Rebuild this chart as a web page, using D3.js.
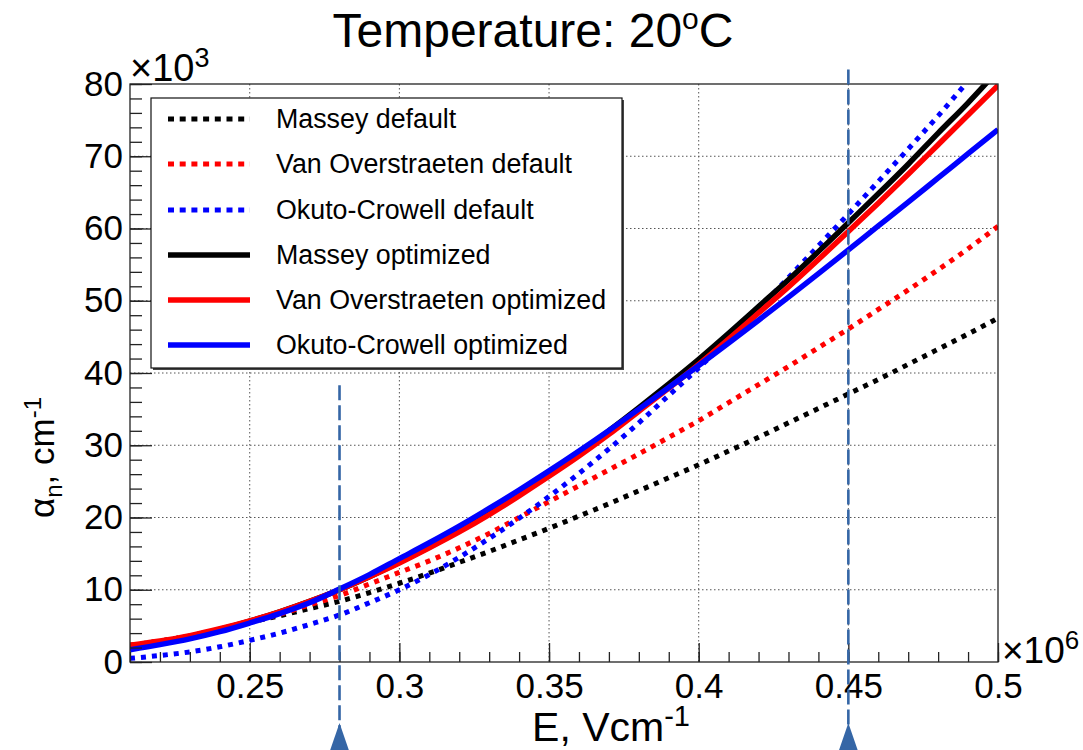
<!DOCTYPE html>
<html>
<head>
<meta charset="utf-8">
<script src="https://cdn.jsdelivr.net/npm/d3@7/dist/d3.min.js"></script>
<style>
  html, body { margin: 0; padding: 0; background: #fff; }
  svg { display: block; font-family: "Liberation Sans", Arial, Helvetica, sans-serif; }
</style>
</head>
<body>
<svg id="chart" width="1083" height="750"></svg>
<script>
// ---- data (E in units of 1e6 V/cm, alpha in units of 1e3 cm^-1) ----
const fieldE = [0.21,0.22,0.23,0.24,0.25,0.26,0.27,0.28,0.29,0.30,
                0.31,0.32,0.33,0.34,0.35,0.36,0.37,0.38,0.39,0.40,
                0.41,0.42,0.43,0.44,0.45,0.46,0.47,0.48,0.49,0.50];

const masseyDefault = [2.3,2.9,3.6,4.5,5.5,6.4,7.4,8.4,9.6,10.9,
                       12.3,13.8,15.3,16.9,18.5,20.2,21.9,23.7,25.5,27.3,
                       29.2,31.1,33.1,35.1,37.1,39.1,41.2,43.3,45.4,47.6];
const vanOverDefault = [2.3,2.9,3.6,4.5,5.5,6.6,7.9,9.2,10.8,12.4,
                        14.0,15.8,17.8,20.0,22.2,24.4,26.6,28.8,31.1,33.4,
                        35.9,38.4,40.9,43.5,46.1,48.8,51.5,54.3,57.2,60.3];
const okutoDefault = [0.5,0.9,1.4,2.1,3.0,4.0,5.2,6.5,8.2,10.0,
                      12.1,14.5,17.1,19.9,22.9,26.1,29.5,33.1,36.9,40.7,
                      44.7,48.9,53.2,57.6,62.0,66.5,71.0,75.6,80.4,85.2];
const masseyOpt = [2.1,2.75,3.55,4.5,5.65,6.95,8.4,10.0,11.8,13.8,
                   15.9,18.2,20.6,23.2,26.0,28.9,32.0,35.2,38.5,41.9,
                   45.5,49.2,52.9,56.8,60.8,64.8,68.9,73.2,77.4,81.9];
const vanOverOpt = [2.3,2.9,3.65,4.6,5.7,6.95,8.4,10.0,11.8,13.7,
                    15.8,18.0,20.4,23.0,25.7,28.5,31.5,34.7,37.9,41.2,
                    44.7,48.3,51.9,55.7,59.6,63.5,67.5,71.6,75.7,79.8];
const okutoOpt = [1.7,2.4,3.2,4.2,5.4,6.7,8.2,10.1,12.1,14.3,
                  16.5,18.8,21.25,23.8,26.45,29.2,32.05,35.0,38.0,41.05,
                  44.15,47.3,50.5,53.75,57.05,60.35,63.65,67.0,70.35,73.7];

const seriesNames = ["Massey default","Van Overstraeten default","Okuto-Crowell default",
                     "Massey optimized","Van Overstraeten optimized","Okuto-Crowell optimized"];
const seriesValues = [masseyDefault, vanOverDefault, okutoDefault, masseyOpt, vanOverOpt, okutoOpt];

const xTickValues = [0.25,0.3,0.35,0.4,0.45,0.5];
const xTickLabels = ["0.25","0.3","0.35","0.4","0.45","0.5"];
const yTickValues = [0,10,20,30,40,50,60,70,80];

const markerE = [0.28, 0.45];
const markerTop = [38.3, 82.0];

// ---- styles ----
const colors = ["#000000","#ff0000","#0000ff","#000000","#ff0000","#0000ff"];
const dotted = [true,true,true,false,false,false];

// ---- layout ----
const svg = d3.select("#chart");
const L = 130, R = 998, T = 84, B = 662;
const x = d3.scaleLinear().domain([0.21, 0.5]).range([L, R]);
const y = d3.scaleLinear().domain([0, 80]).range([B, T]);
const FONT = 35;

svg.append("defs").append("clipPath").attr("id","plotclip")
  .append("rect").attr("x", L).attr("y", T).attr("width", R - L).attr("height", B - T);

// grid
const grid = svg.append("g");
xTickValues.filter(v => v < 0.5).forEach(v => {
  grid.append("line").attr("x1", x(v)).attr("x2", x(v)).attr("y1", T).attr("y2", B)
    .attr("stroke", "#555").attr("stroke-width", 1).attr("stroke-dasharray", "1.5,2.5");
});
yTickValues.filter(v => v > 0 && v < 80).forEach(v => {
  grid.append("line").attr("x1", L).attr("x2", R).attr("y1", y(v)).attr("y2", y(v))
    .attr("stroke", "#555").attr("stroke-width", 1).attr("stroke-dasharray", "1.5,2.5");
});

// curves
const curveG = svg.append("g").attr("clip-path", "url(#plotclip)");
const line = d3.line().x((d, i) => x(fieldE[i])).y(d => y(d)).curve(d3.curveMonotoneX);
seriesValues.forEach((vals, k) => {
  curveG.append("path").attr("d", line(vals)).attr("fill", "none")
    .attr("stroke", colors[k])
    .attr("stroke-width", dotted[k] ? 5 : 5.5)
    .attr("stroke-dasharray", dotted[k] ? "5,6" : null)
    .attr("stroke-linejoin", "round");
});

// frame
svg.append("rect").attr("x", L).attr("y", T).attr("width", R - L).attr("height", B - T)
  .attr("fill", "none").attr("stroke", "#222").attr("stroke-width", 1.3);

// x axis (ticks inward)
const minorX = d3.range(21, 51).map(v => v / 100);
svg.append("g").attr("transform", `translate(0,${B})`)
  .call(d3.axisBottom(x).tickValues(minorX).tickSize(-10).tickFormat(""))
  .call(g => g.select(".domain").remove())
  .call(g => g.selectAll("line").attr("stroke", "#222").attr("stroke-width", 1.3));
svg.append("g").attr("transform", `translate(0,${B})`)
  .call(d3.axisBottom(x).tickValues(xTickValues).tickSize(-19).tickPadding(11)
        .tickFormat((d, i) => xTickLabels[i]))
  .call(g => g.select(".domain").remove())
  .call(g => g.selectAll("line").attr("stroke", "#222").attr("stroke-width", 1.3))
  .call(g => g.selectAll("text").attr("font-size", FONT).attr("fill", "#000")
        .attr("font-family", "Liberation Sans, Arial, sans-serif"));

// y axis (ticks inward)
const minorY = d3.range(0, 81, 2);
svg.append("g").attr("transform", `translate(${L},0)`)
  .call(d3.axisLeft(y).tickValues(minorY).tickSize(-12).tickFormat(""))
  .call(g => g.select(".domain").remove())
  .call(g => g.selectAll("line").attr("stroke", "#222").attr("stroke-width", 1.3));
svg.append("g").attr("transform", `translate(${L},0)`)
  .call(d3.axisLeft(y).tickValues(yTickValues).tickSize(-22).tickPadding(7).tickFormat(d3.format("d")))
  .call(g => g.select(".domain").remove())
  .call(g => g.selectAll("line").attr("stroke", "#222").attr("stroke-width", 1.3))
  .call(g => g.selectAll("text").attr("font-size", FONT).attr("fill", "#000")
        .attr("font-family", "Liberation Sans, Arial, sans-serif"));

// exponent labels
const e3 = svg.append("text").attr("x", L).attr("y", 81).attr("font-size", 38);
e3.append("tspan").text("\u00d710");
e3.append("tspan").attr("dy", -14).attr("font-size", 27).text("3");
const e6 = svg.append("text").attr("x", R + 4).attr("y", 663).attr("font-size", 37);
e6.append("tspan").text("\u00d710");
e6.append("tspan").attr("dy", -14).attr("font-size", 26).text("6");

// title
const title = svg.append("text").attr("x", 533).attr("y", 47).attr("text-anchor", "middle").attr("font-size", 48);
title.append("tspan").text("Temperature: 20");
title.append("tspan").attr("dy", -18).attr("font-size", 30).text("o");
title.append("tspan").attr("dy", 18).text("C");

// axis titles
const xt = svg.append("text").attr("x", 690).attr("y", 741).attr("text-anchor", "end").attr("font-size", 41);
xt.append("tspan").text("E, Vcm");
xt.append("tspan").attr("dy", -15).attr("font-size", 29).text("-1");

const yt = svg.append("text").attr("transform", "translate(54,518) rotate(-90)")
  .attr("text-anchor", "start").attr("font-size", FONT);
yt.append("tspan").text("\u03b1");
yt.append("tspan").attr("dy", 8).attr("font-size", 24).text("n");
yt.append("tspan").attr("dy", -8).text(", cm");
yt.append("tspan").attr("dy", -13).attr("font-size", 24).text("-1");

// marker lines with triangles
markerE.forEach((e, i) => {
  const mx = x(e);
  svg.append("line").attr("x1", mx).attr("x2", mx).attr("y1", y(markerTop[i])).attr("y2", 728)
    .attr("stroke", "#3566a6").attr("stroke-width", 2.6).attr("stroke-dasharray", "15,5");
  svg.append("path").attr("d", `M${mx},723 L${mx - 10},752 L${mx + 10},752 Z`).attr("fill", "#3566a6");
});

// legend
const lg = svg.append("g");
lg.append("rect").attr("x", 153).attr("y", 100).attr("width", 471).attr("height", 270).attr("fill", "#444");
lg.append("rect").attr("x", 151).attr("y", 98).attr("width", 471).attr("height", 270)
  .attr("fill", "#fff").attr("stroke", "#111").attr("stroke-width", 1.2);
const rowY = [119, 164, 210, 255, 300, 345];
seriesNames.forEach((name, k) => {
  lg.append("line").attr("x1", 168).attr("x2", 250).attr("y1", rowY[k]).attr("y2", rowY[k])
    .attr("stroke", colors[k]).attr("stroke-width", dotted[k] ? 5 : 5.5)
    .attr("stroke-dasharray", dotted[k] ? "6,5.7" : null);
  lg.append("text").attr("x", 276).attr("y", rowY[k]).attr("dy", "0.35em")
    .attr("font-size", 26.8).text(name);
});
</script>
</body>
</html>
